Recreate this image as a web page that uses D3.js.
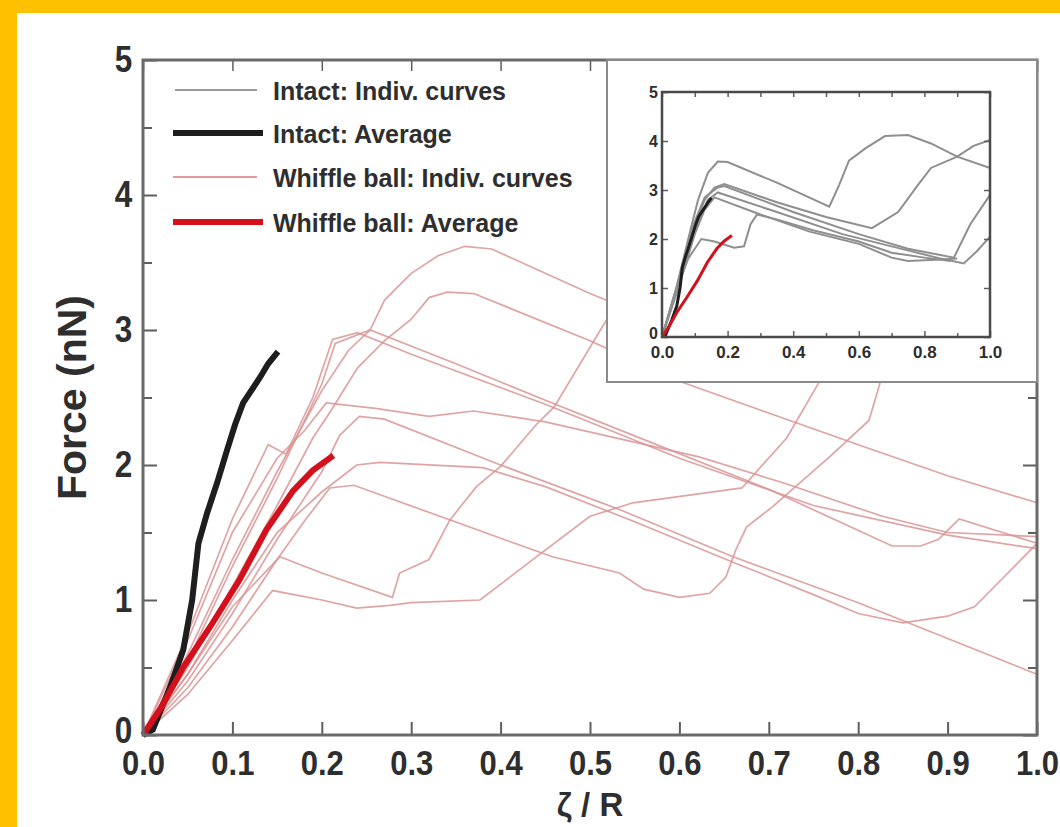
<!DOCTYPE html>
<html>
<head>
<meta charset="utf-8">
<script src="https://cdn.jsdelivr.net/npm/d3@7"></script>
<style>
  body { margin: 0; background: #ffc000; }
  text { font-family: "Liberation Sans", Arial, sans-serif; font-weight: bold; fill: #2e2e2e; }
</style>
</head>
<body>
<div id="chart"></div>
<script>
// tick values
const xTicks = [0, 0.1, 0.2, 0.3, 0.4, 0.5, 0.6, 0.7, 0.8, 0.9, 1.0];
const yTicks = [0, 1, 2, 3, 4, 5];
const yMinorTicks = [0.5, 1.5, 2.5, 3.5, 4.5];
const insetXTicks = [0, 0.2, 0.4, 0.6, 0.8, 1.0];
const insetXMinor = [0.1, 0.3, 0.5, 0.7, 0.9];
const insetYTicks = [0, 1, 2, 3, 4, 5];

const legendLabels = ["Intact: Indiv. curves", "Intact: Average", "Whiffle ball: Indiv. curves", "Whiffle ball: Average"];

// averages [zeta/R, force nN]
const intactAvg = [[0,0],[0.011,0.04],[0.03,0.35],[0.045,0.63],[0.055,1.0],[0.062,1.42],[0.072,1.65],[0.083,1.87],[0.094,2.11],[0.103,2.3],[0.112,2.46],[0.131,2.65],[0.14,2.75],[0.151,2.84]];
const whiffleAvg = [[0,0],[0.02,0.2],[0.045,0.5],[0.075,0.8],[0.108,1.15],[0.138,1.52],[0.168,1.81],[0.19,1.96],[0.213,2.07]];

// whiffle ball individual curves
const whiffle1 = [[0,0],[0.05,0.6],[0.1,1.3],[0.15,1.95],[0.2,2.55],[0.23,2.85],[0.254,3.0],[0.27,3.22],[0.3,3.42],[0.33,3.55],[0.36,3.62],[0.39,3.6],[0.5,3.27],[0.6,3.0],[0.8,2.85],[1.0,2.75]];
const whiffle2 = [[0,0],[0.05,0.5],[0.1,1.1],[0.15,1.7],[0.19,2.2],[0.21,2.4],[0.24,2.72],[0.27,2.92],[0.3,3.08],[0.32,3.24],[0.34,3.28],[0.37,3.27],[0.5,2.92],[0.6,2.62],[0.8,2.15],[0.9,1.92],[1.0,1.72]];
const whiffle3 = [[0,0],[0.05,0.55],[0.1,1.25],[0.15,1.9],[0.2,2.6],[0.215,2.9],[0.254,3.0],[0.35,2.75],[0.45,2.48],[0.533,2.26],[0.7,1.82],[0.838,1.4],[0.87,1.4],[0.89,1.45],[0.913,1.6],[1.0,1.42]];
const whiffle4 = [[0,0],[0.05,0.7],[0.1,1.5],[0.15,2.05],[0.18,2.25],[0.205,2.46],[0.26,2.42],[0.32,2.36],[0.37,2.4],[0.45,2.32],[0.622,2.06],[0.715,1.87],[0.827,1.62],[0.9,1.5],[1.0,1.47]];
const whiffle5 = [[0,0],[0.05,0.4],[0.1,0.9],[0.15,1.45],[0.2,1.95],[0.22,2.22],[0.242,2.36],[0.27,2.34],[0.4,2.0],[0.533,1.67],[0.66,1.32],[0.8,0.98],[1.0,0.45]];
const whiffle6 = [[0,0],[0.05,0.45],[0.1,1.0],[0.15,1.5],[0.2,1.8],[0.239,2.0],[0.265,2.02],[0.38,1.98],[0.45,1.84],[0.55,1.58],[0.66,1.28],[0.75,1.04],[0.8,0.9],[0.85,0.83],[0.9,0.88],[0.93,0.95],[0.96,1.15],[1.0,1.42]];
const whiffle7 = [[0,0],[0.05,0.35],[0.1,0.8],[0.15,1.3],[0.18,1.58],[0.209,1.83],[0.236,1.85],[0.332,1.62],[0.458,1.32],[0.533,1.2],[0.56,1.08],[0.6,1.02],[0.634,1.05],[0.652,1.17],[0.663,1.37],[0.675,1.54],[0.704,1.69],[0.742,1.91],[0.768,2.06],[0.812,2.33],[0.825,2.62],[0.86,3.0],[0.92,3.1],[1.0,2.95]];
const whiffle8 = [[0,0],[0.05,0.3],[0.1,0.7],[0.145,1.07],[0.2,1.0],[0.239,0.94],[0.276,0.96],[0.3,0.98],[0.377,1.0],[0.44,1.32],[0.5,1.62],[0.548,1.72],[0.67,1.83],[0.72,2.2],[0.756,2.61],[0.8,3.0],[0.85,3.1],[1.0,2.8]];
const whiffle9 = [[0,0],[0.05,0.45],[0.1,0.95],[0.153,1.32],[0.2,1.2],[0.279,1.02],[0.287,1.2],[0.32,1.3],[0.343,1.59],[0.373,1.84],[0.4,1.99],[0.44,2.3],[0.46,2.43],[0.518,3.07],[0.55,3.3],[0.6,3.2],[1.0,2.9]];
const whiffle10 = [[0,0],[0.05,0.75],[0.1,1.6],[0.14,2.15],[0.16,2.08],[0.19,2.5],[0.212,2.93],[0.24,2.98],[0.3,2.82],[0.45,2.45],[0.6,2.05],[0.75,1.7],[0.9,1.48],[1.0,1.38]];
const whiffleCurves = [whiffle1, whiffle2, whiffle3, whiffle4, whiffle5, whiffle6, whiffle7, whiffle8, whiffle9, whiffle10];

// intact individual curves (inset)
const intact1 = [[0,0],[0.04,0.9],[0.08,2.0],[0.11,2.8],[0.14,3.35],[0.17,3.58],[0.2,3.57],[0.35,3.15],[0.51,2.66],[0.54,3.1],[0.57,3.6],[0.62,3.85],[0.68,4.1],[0.75,4.12],[0.82,3.95],[0.9,3.68],[1.0,3.45]];
const intact2 = [[0,0],[0.05,1.1],[0.09,2.1],[0.13,2.8],[0.16,3.05],[0.19,3.12],[0.35,2.75],[0.5,2.45],[0.64,2.22],[0.72,2.55],[0.78,3.1],[0.82,3.45],[0.9,3.68],[0.95,3.9],[1.0,4.02]];
const intact3 = [[0,0],[0.05,1.15],[0.09,2.2],[0.13,2.85],[0.17,3.05],[0.19,3.08],[0.4,2.55],[0.6,2.1],[0.75,1.8],[0.89,1.62],[0.94,2.3],[1.0,2.9]];
const intact4 = [[0,0],[0.05,1.05],[0.1,2.2],[0.14,2.8],[0.17,2.95],[0.35,2.55],[0.55,2.1],[0.7,1.85],[0.85,1.6],[0.92,1.5],[0.96,1.75],[1.0,2.05]];
const intact5 = [[0,0],[0.05,1.0],[0.1,2.1],[0.13,2.6],[0.16,2.85],[0.3,2.5],[0.45,2.15],[0.6,1.9],[0.7,1.62],[0.75,1.55],[0.85,1.58],[0.9,1.6]];
const intact6 = [[0,0],[0.04,0.9],[0.08,1.6],[0.12,2.0],[0.16,1.95],[0.22,1.82],[0.25,1.85],[0.27,2.3],[0.29,2.5],[0.35,2.4],[0.46,2.18],[0.6,1.95],[0.7,1.72],[0.8,1.62],[0.88,1.55]];
const intactCurves = [intact1, intact2, intact3, intact4, intact5, intact6];

const width = 1060, height = 827;

const svg = d3.select("#chart").append("svg")
  .attr("width", width)
  .attr("height", height)
  .style("display", "block");

// frame
svg.append("rect").attr("width", width).attr("height", height).attr("fill", "#ffc000");
svg.append("rect").attr("x", 17).attr("y", 13).attr("width", width - 17).attr("height", height - 13).attr("fill", "#ffffff");

const margin = {top: 60, right: 23, bottom: 92, left: 143};

const x = d3.scaleLinear().domain([0, 1]).range([margin.left, width - margin.right]);
const y = d3.scaleLinear().domain([0, 5]).range([height - margin.bottom, margin.top]);

const line = d3.line().x(d => x(d[0])).y(d => y(d[1]));

// individual whiffle curves
svg.append("g").selectAll("path")
  .data(whiffleCurves)
  .enter().append("path")
  .attr("d", line)
  .attr("fill", "none")
  .attr("stroke", "#d99494")
  .attr("stroke-opacity", 0.85)
  .attr("stroke-width", 1.7);

svg.append("path").datum(intactAvg)
  .attr("d", line).attr("fill", "none")
  .attr("stroke", "#1e1e1e").attr("stroke-width", 6);

svg.append("path").datum(whiffleAvg)
  .attr("d", line).attr("fill", "none")
  .attr("stroke", "#d3101c").attr("stroke-width", 6);

// axes
const styleTicks = function(g, w) {
  g.select(".domain").remove();
  g.selectAll(".tick line").attr("stroke", "#5e5e5e").attr("stroke-width", w);
};

const xAxis = svg.append("g")
  .attr("transform", `translate(0,${y(0)})`)
  .call(d3.axisBottom(x).tickValues(xTicks).tickFormat(d3.format(".1f")).tickSizeInner(-13).tickSizeOuter(0).tickPadding(14))
  .call(styleTicks, 2);
xAxis.selectAll("text").attr("font-size", 33).attr("fill", "#2e2e2e").attr("transform", "scale(0.94,1.08)");

const yAxis = svg.append("g")
  .attr("transform", `translate(${x(0)},0)`)
  .call(d3.axisLeft(y).tickValues(yTicks).tickFormat(d3.format("d")).tickSizeInner(-14).tickSizeOuter(0).tickPadding(12))
  .call(styleTicks, 2);
yAxis.selectAll("text").attr("font-size", 35).attr("fill", "#2e2e2e").attr("transform", "scale(0.9,1.04)");
yAxis.selectAll(".tick").filter(d => d === 0).select("text").attr("dy", "0.2em");

svg.append("g").attr("transform", `translate(${x(0)},0)`)
  .call(d3.axisLeft(y).tickValues(yMinorTicks).tickFormat("").tickSizeInner(-9).tickSizeOuter(0))
  .call(styleTicks, 2);

svg.append("g").attr("transform", `translate(${x(1)},0)`)
  .call(d3.axisRight(y).tickValues(yTicks).tickFormat("").tickSizeInner(-14).tickSizeOuter(0))
  .call(styleTicks, 2);
svg.append("g").attr("transform", `translate(${x(1)},0)`)
  .call(d3.axisRight(y).tickValues(yMinorTicks).tickFormat("").tickSizeInner(-9).tickSizeOuter(0))
  .call(styleTicks, 2);

svg.append("g").attr("transform", `translate(0,${y(5)})`)
  .call(d3.axisTop(x).tickValues(xTicks).tickFormat("").tickSizeInner(-11).tickSizeOuter(0))
  .call(styleTicks, 1.5);

svg.append("rect")
  .attr("x", x(0)).attr("y", y(5))
  .attr("width", x(1) - x(0)).attr("height", y(0) - y(5))
  .attr("fill", "none").attr("stroke", "#6a6a6a").attr("stroke-width", 3);

// axis titles
svg.append("text")
  .attr("transform", `translate(86,${(y(0) + y(5)) / 2}) rotate(-90)`)
  .attr("text-anchor", "middle")
  .attr("font-size", 41)
  .text("Force (nN)");

svg.append("text")
  .attr("x", (x(0) + x(1)) / 2)
  .attr("y", 816)
  .attr("text-anchor", "middle")
  .attr("font-size", 33)
  .text("ζ / R");

// legend
const legendStyles = [
  {stroke: "#9a9a9a", width: 2, x1: 175, x2: 257},
  {stroke: "#1e1e1e", width: 6, x1: 173, x2: 263},
  {stroke: "#e39a9a", width: 2, x1: 173, x2: 257},
  {stroke: "#d3101c", width: 6, x1: 173, x2: 263}
];
const legendY = [90, 133, 177, 222];

const legend = svg.append("g").selectAll("g")
  .data(legendLabels)
  .enter().append("g");

legend.append("line")
  .attr("x1", (d, i) => legendStyles[i].x1)
  .attr("x2", (d, i) => legendStyles[i].x2)
  .attr("y1", (d, i) => legendY[i])
  .attr("y2", (d, i) => legendY[i])
  .attr("stroke", (d, i) => legendStyles[i].stroke)
  .attr("stroke-width", (d, i) => legendStyles[i].width);

legend.append("text")
  .attr("x", 273)
  .attr("y", (d, i) => legendY[i] + 10)
  .attr("font-size", 25)
  .attr("fill", "#333")
  .text(d => d);

// inset
const inset = svg.append("g");

inset.append("rect")
  .attr("x", 607).attr("y", y(5))
  .attr("width", x(1) - 607).attr("height", 382 - y(5))
  .attr("fill", "#ffffff").attr("stroke", "#8a8a8a").attr("stroke-width", 2);

const ix = d3.scaleLinear().domain([0, 1]).range([662, 990]);
const iy = d3.scaleLinear().domain([0, 5]).range([337, 92]);
const iline = d3.line().x(d => ix(d[0])).y(d => iy(d[1]));

inset.append("g").selectAll("path")
  .data(intactCurves)
  .enter().append("path")
  .attr("d", iline)
  .attr("fill", "none")
  .attr("stroke", "#8f8f8f")
  .attr("stroke-width", 2);

inset.append("path").datum(intactAvg)
  .attr("d", iline).attr("fill", "none")
  .attr("stroke", "#1e1e1e").attr("stroke-width", 3);

inset.append("path").datum(whiffleAvg)
  .attr("d", iline).attr("fill", "none")
  .attr("stroke", "#d3101c").attr("stroke-width", 3);

const ixAxis = inset.append("g")
  .attr("transform", `translate(0,${iy(0)})`)
  .call(d3.axisBottom(ix).tickValues(insetXTicks).tickFormat(d3.format(".1f")).tickSizeInner(-6).tickSizeOuter(0).tickPadding(9))
  .call(styleTicks, 1.5);
ixAxis.selectAll("text").attr("font-size", 17).attr("fill", "#2e2e2e");

inset.append("g").attr("transform", `translate(0,${iy(0)})`)
  .call(d3.axisBottom(ix).tickValues(insetXMinor).tickFormat("").tickSizeInner(-4).tickSizeOuter(0))
  .call(styleTicks, 1.5);

inset.append("g").attr("transform", `translate(0,${iy(5)})`)
  .call(d3.axisTop(ix).tickValues(insetXTicks.concat(insetXMinor)).tickFormat("").tickSizeInner(-5).tickSizeOuter(0))
  .call(styleTicks, 1.5);

const iyAxis = inset.append("g")
  .attr("transform", `translate(${ix(0)},0)`)
  .call(d3.axisLeft(iy).tickValues(insetYTicks).tickFormat(d3.format("d")).tickSizeInner(-6).tickSizeOuter(0).tickPadding(4))
  .call(styleTicks, 1.5);
iyAxis.selectAll("text").attr("font-size", 16).attr("fill", "#2e2e2e");
iyAxis.selectAll(".tick").filter(d => d === 0).select("text").attr("dy", "0.1em");

inset.append("g").attr("transform", `translate(${ix(1)},0)`)
  .call(d3.axisRight(iy).tickValues(insetYTicks).tickFormat("").tickSizeInner(-6).tickSizeOuter(0))
  .call(styleTicks, 1.5);

inset.append("rect")
  .attr("x", ix(0)).attr("y", iy(5))
  .attr("width", ix(1) - ix(0)).attr("height", iy(0) - iy(5))
  .attr("fill", "none").attr("stroke", "#4a4a4a").attr("stroke-width", 2.5);
</script>
</body>
</html>
